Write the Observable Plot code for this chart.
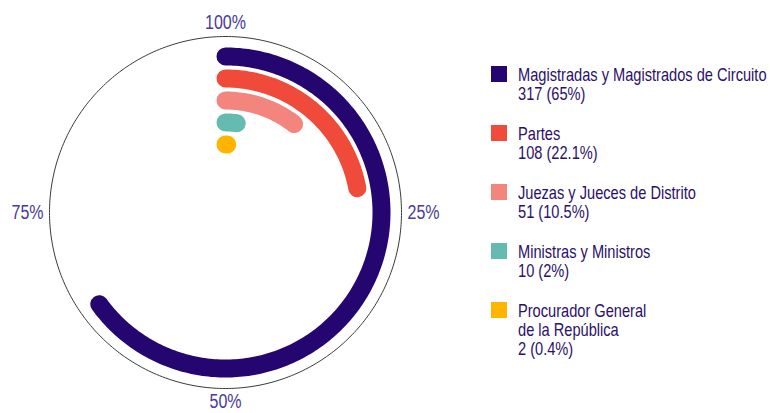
<!DOCTYPE html>
<html>
<head>
<meta charset="utf-8">
<script src="https://cdn.jsdelivr.net/npm/d3@7"></script>
<script src="https://cdn.jsdelivr.net/npm/@observablehq/plot@0.6"></script>
<style>
  html, body { margin: 0; padding: 0; background: #fff; }
  #wrap { position: relative; width: 770px; height: 413px; overflow: hidden; }
  #chart { position: absolute; left: 0; top: 0; }
  .item { position: absolute; left: 491px; }
  .sw { position: absolute; left: 0; top: 0; width: 16px; height: 16px; }
  .lab { position: absolute; left: 27px; top: -1px; white-space: pre; color: #2b0f6b;
         font-family: "Liberation Sans", Arial, sans-serif;
         font-size: 18.5px; line-height: 19px;
         transform: scaleX(0.79); transform-origin: 0 0; }
</style>
</head>
<body>
<div id="wrap"><div id="chart"></div></div>
<script>
// ---- data ----
const categories = [
  "Magistradas y Magistrados de Circuito",
  "Partes",
  "Juezas y Jueces de Distrito",
  "Ministras y Ministros",
  "Procurador General\nde la República"
];
const counts = [317, 108, 51, 10, 2];
const percents = [65, 22.1, 10.5, 2, 0.4];
const colors = ["#250570", "#ef4a3a", "#f3847e", "#66bbb0", "#ffb400"];
const tickValues = [0, 25, 50, 75];
const tickLabels = ["100%", "25%", "50%", "75%"];

// ---- layout ----
const W = 770, H = 413;
const R = 176;              // outer circle radius in px (= 1 data unit)
const cx = 225, cy = 212;   // centre in px
const ringR = i => (156 - 22 * i) / R;

// arc geometry derived from the percentages
const arcs = [];
categories.forEach((c, i) => {
  const end = percents[i] / 100 * 2 * Math.PI;
  const n = Math.max(2, Math.ceil(percents[i] * 3.6) + 1);
  for (let k = 0; k < n; k++) {
    const a = end * k / (n - 1);
    arcs.push({cat: c, x: ringR(i) * Math.sin(a), y: ringR(i) * Math.cos(a)});
  }
});
const circle = d3.range(0, 361).map(d => {
  const a = d / 180 * Math.PI;
  return {x: Math.sin(a), y: Math.cos(a)};
});
const ticks = tickValues.map((v, i) => {
  const a = v / 100 * 2 * Math.PI;
  return {label: tickLabels[i], v, x: Math.sin(a), y: Math.cos(a)};
});

const labelFont = '"Liberation Sans", Arial, sans-serif';
const tickMark = (v, opts) => Plot.text(ticks.filter(t => t.v === v), {
  x: d => d.x * opts.k, y: d => d.y * opts.k, text: "label",
  fill: "#4a3a9a", fontSize: 20, fontFamily: labelFont,
  textAnchor: opts.anchor, lineAnchor: opts.line
});

const plot = Plot.plot({
  width: W, height: H,
  margin: 0,
  x: {domain: [-cx / R, (W - cx) / R], axis: null},
  y: {domain: [-(H - cy) / R, cy / R], axis: null},
  color: {domain: categories, range: colors},
  marks: [
    Plot.line(circle, {x: "x", y: "y", stroke: "#3a3a3a", strokeWidth: 1}),
    Plot.line(arcs, {x: "x", y: "y", z: "cat", stroke: "cat", strokeWidth: 18,
      strokeLinecap: "round", strokeLinejoin: "round"}),
    tickMark(0, {k: 1.04, anchor: "middle", line: "bottom"}),
    tickMark(25, {k: 1.034, anchor: "start", line: "middle"}),
    tickMark(50, {k: 1.03, anchor: "middle", line: "top"}),
    tickMark(75, {k: 1.034, anchor: "end", line: "middle"})
  ]
});
document.getElementById("chart").appendChild(plot);

// condense tick labels horizontally (narrow typeface look)
const SX = 0.8;
plot.querySelectorAll("text").forEach(t => {
  const tr = t.getAttribute("transform") || "";
  t.setAttribute("transform", tr + ` scale(${SX},1)`);
});

// ---- legend ----
const wrap = document.getElementById("wrap");
categories.forEach((c, i) => {
  const item = document.createElement("div");
  item.className = "item";
  item.style.top = (66 + 59 * i) + "px";
  const sw = document.createElement("div");
  sw.className = "sw";
  sw.style.background = colors[i];
  const lab = document.createElement("div");
  lab.className = "lab";
  lab.textContent = c + "\n" + counts[i] + " (" + percents[i] + "%)";
  item.appendChild(sw);
  item.appendChild(lab);
  wrap.appendChild(item);
});
</script>
</body>
</html>
